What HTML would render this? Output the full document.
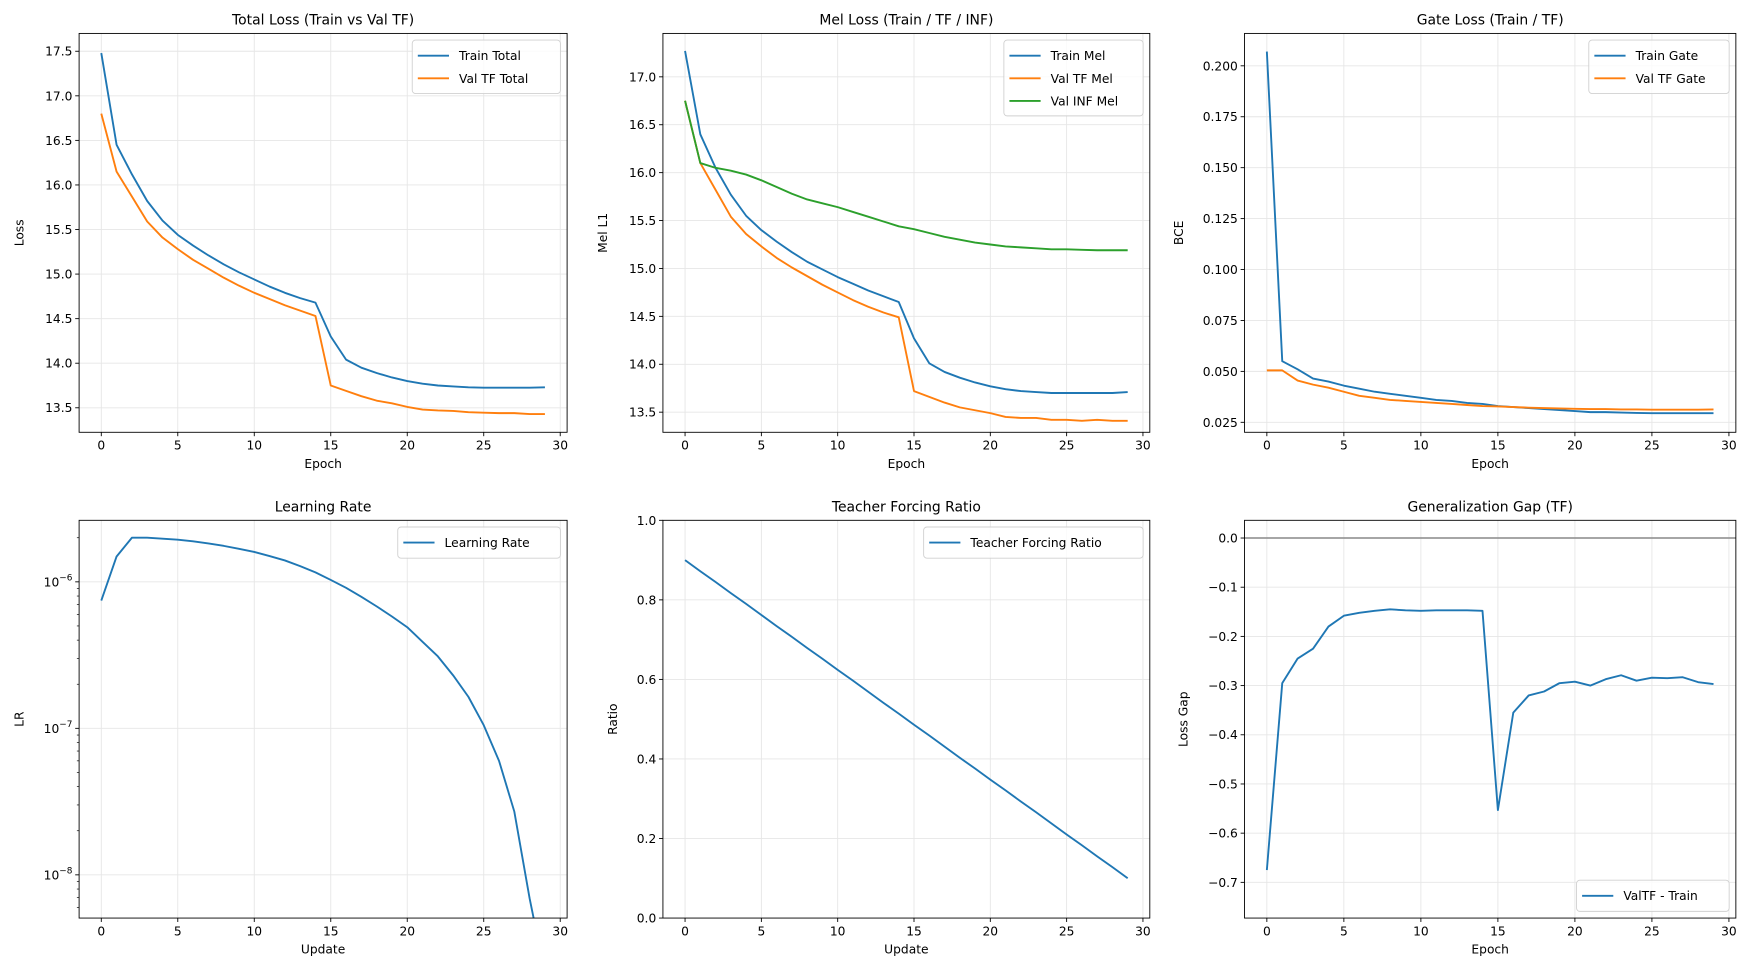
<!DOCTYPE html>
<html><head><meta charset="utf-8"><style>
html,body{margin:0;padding:0;background:#fff;}
svg{display:block;font-family:"DejaVu Sans","Liberation Sans",sans-serif;}
</style></head><body>
<svg id="fig" width="1747" height="976" viewBox="0 0 1568 876" xmlns="http://www.w3.org/2000/svg"></svg>
<script>
const epochs = [0,1,2,3,4,5,6,7,8,9,10,11,12,13,14,15,16,17,18,19,20,21,22,23,24,25,26,27,28,29];
const trainTotal = [17.48,16.45,16.12,15.82,15.6,15.44,15.32,15.21,15.11,15.02,14.94,14.86,14.79,14.73,14.68,14.3,14.04,13.95,13.89,13.84,13.8,13.77,13.75,13.74,13.73,13.725,13.725,13.725,13.725,13.73];
const valTotal = [16.8,16.15,15.87,15.59,15.41,15.28,15.16,15.06,14.96,14.87,14.79,14.72,14.65,14.59,14.53,13.75,13.69,13.63,13.58,13.55,13.51,13.48,13.47,13.465,13.45,13.445,13.44,13.44,13.43,13.43];
const trainMel = [17.27,16.4,16.05,15.77,15.55,15.4,15.28,15.17,15.07,14.99,14.91,14.84,14.77,14.71,14.65,14.27,14.01,13.92,13.86,13.81,13.77,13.74,13.72,13.71,13.70,13.70,13.70,13.70,13.70,13.71];
const valTfMel = [16.75,16.1,15.82,15.54,15.36,15.23,15.11,15.01,14.92,14.83,14.75,14.67,14.6,14.54,14.49,13.72,13.66,13.6,13.55,13.52,13.49,13.45,13.44,13.44,13.42,13.42,13.41,13.42,13.41,13.41];
const valInfMel = [16.75,16.1,16.05,16.02,15.98,15.92,15.85,15.78,15.72,15.68,15.64,15.59,15.54,15.49,15.44,15.41,15.37,15.33,15.3,15.27,15.25,15.23,15.22,15.21,15.2,15.2,15.195,15.19,15.19,15.19];
const trainGate = [0.207,0.055,0.051,0.0465,0.045,0.043,0.0415,0.040,0.039,0.038,0.037,0.036,0.0355,0.0345,0.034,0.033,0.0325,0.032,0.0315,0.031,0.0305,0.030,0.030,0.0298,0.0296,0.0295,0.0295,0.0295,0.0295,0.0295];
const valGate = [0.0505,0.0505,0.0455,0.0435,0.042,0.040,0.038,0.037,0.036,0.0355,0.035,0.0345,0.034,0.0335,0.033,0.0328,0.0325,0.0322,0.032,0.0318,0.0316,0.0315,0.0315,0.0313,0.0313,0.0312,0.0312,0.0312,0.0312,0.0313];
const learningRate = [7.45e-7,1.49e-6,2.0e-6,2.0e-6,1.97e-6,1.94e-6,1.89e-6,1.83e-6,1.76e-6,1.68e-6,1.6e-6,1.5e-6,1.4e-6,1.28e-6,1.16e-6,1.03e-6,9.1e-7,7.9e-7,6.8e-7,5.8e-7,4.9e-7,3.9e-7,3.1e-7,2.3e-7,1.64e-7,1.05e-7,6.0e-8,2.7e-8,6.9e-9,1e-14];
const tfRatio = [0.900,0.872,0.845,0.817,0.790,0.762,0.734,0.707,0.679,0.652,0.624,0.597,0.569,0.541,0.514,0.486,0.459,0.431,0.403,0.376,0.348,0.321,0.293,0.266,0.238,0.210,0.183,0.155,0.128,0.100];
const genGap = [-0.675,-0.295,-0.245,-0.225,-0.18,-0.158,-0.152,-0.148,-0.145,-0.147,-0.148,-0.147,-0.147,-0.147,-0.148,-0.553,-0.355,-0.32,-0.312,-0.295,-0.292,-0.3,-0.287,-0.279,-0.29,-0.284,-0.285,-0.283,-0.293,-0.297];
const xTicks = [0,5,10,15,20,25,30];
const ticksTotal = [13.5,14.0,14.5,15.0,15.5,16.0,16.5,17.0,17.5];
const ticksMel = [13.5,14.0,14.5,15.0,15.5,16.0,16.5,17.0];
const ticksGate = [0.025,0.050,0.075,0.100,0.125,0.150,0.175,0.200];
const ticksRatio = [0.0,0.2,0.4,0.6,0.8,1.0];
const ticksGap = [-0.7,-0.6,-0.5,-0.4,-0.3,-0.2,-0.1,0.0];
const ticksLogExp = [-8,-7,-6];

const NS="http://www.w3.org/2000/svg";
const svg=document.getElementById('fig');
const C1="#1f77b4",C2="#ff7f0e",C3="#2ca02c";
function mk(tag,attrs,parent){const e=document.createElementNS(NS,tag);for(const k in attrs)e.setAttribute(k,attrs[k]);(parent||svg).appendChild(e);return e;}
let clipId=0;
function panel(o){
  const g=mk('g',{});
  
  
  const L=o.box[0],R=o.box[1],T=o.box[2],B=o.box[3];
  const xs=v=>L+(v-(-1.45))/(31.9)*(R-L);
  const ys=o.log? (v=>B-(Math.log10(v)-o.ymin)/(o.ymax-o.ymin)*(B-T)) : (v=>B-(v-o.ymin)/(o.ymax-o.ymin)*(B-T));
  xTicks.forEach(t=>{const x=xs(t);const gl=mk('line',{x1:x,x2:x,y1:T,y2:B,stroke:'#e6e6e6','stroke-width':0.8},g);
    const tk=mk('line',{x1:x,x2:x,y1:B,y2:B+3.5,stroke:'#000','stroke-width':0.8},g);
    const tl=mk('text',{x:x,y:B+15.5,'font-size':11,'text-anchor':'middle',fill:'#000'},g);tl.textContent=t;});
  if(o.log){
    for(let e=-9;e<=-5;e++){for(let m=1;m<10;m++){const v=m*Math.pow(10,e);const lv=Math.log10(v);if(lv<o.ymin||lv>o.ymax)continue;const y=ys(v);
      if(m===1){const gl=mk('line',{x1:L,x2:R,y1:y,y2:y,stroke:'#e6e6e6','stroke-width':0.8},g);}
      const tk=mk('line',{x1:L-(m===1?3.5:2),x2:L,y1:y,y2:y,stroke:'#000','stroke-width':m===1?0.8:0.6},g);}}
    ticksLogExp.forEach(e=>{const y=ys(Math.pow(10,e));const tl=mk('text',{x:L-6,y:y+4,'font-size':11,'text-anchor':'end',fill:'#000'},g);
      tl.appendChild(document.createTextNode('10'));const ts=mk('tspan',{dy:-5,'font-size':8},tl);ts.textContent='\u2212'+(-e);});
  } else {
    o.yt.forEach(t=>{const y=ys(t);const gl=mk('line',{x1:L,x2:R,y1:y,y2:y,stroke:'#e6e6e6','stroke-width':0.8},g);
      const tk=mk('line',{x1:L-3.5,x2:L,y1:y,y2:y,stroke:'#000','stroke-width':0.8},g);
      const tl=mk('text',{x:L-6,y:y+4,'font-size':11,'text-anchor':'end',fill:'#000'},g);tl.textContent=(t<0?'\u2212':'')+Math.abs(t).toFixed(o.dec);});
  }
  if(o.zero){const z=mk('line',{x1:L,x2:R,y1:ys(0),y2:ys(0),stroke:'#999','stroke-width':1.5},g);}
  const cid='c'+(clipId++);const cp=mk('clipPath',{id:cid},g);mk('rect',{x:L,y:T,width:R-L,height:B-T},cp);
  o.series.forEach(s=>{const d=s.data.map((v,i)=>(i?'L':'M')+xs(epochs[i]).toFixed(2)+','+Math.min(ys(v),B+50).toFixed(2)).join('');
    const p=mk('path',{d:d,fill:'none',stroke:s.c,'stroke-width':1.7,'clip-path':'url(#'+cid+')','stroke-linejoin':'round'},g);});
  const fr=mk('rect',{x:L,y:T,width:R-L,height:B-T,fill:'none',stroke:'#000','stroke-width':0.8},g);
  const ti=mk('text',{x:(L+R)/2,y:T-8,'font-size':12.5,'text-anchor':'middle',fill:'#000'},g);ti.textContent=o.title;
  const xl=mk('text',{x:(L+R)/2,y:B+32,'font-size':11,'text-anchor':'middle',fill:'#000'},g);xl.textContent=o.xlab;
  const yl=mk('text',{x:0,y:0,'font-size':11,'text-anchor':'middle',fill:'#000',transform:'translate('+o.ylx+','+(T+B)/2+') rotate(-90)'},g);yl.textContent=o.ylab;
  const n=o.series.length;const lw=o.legW,lh=8+n*20;const lx=R-6-lw;const ly=o.legBottom?B-6-lh:T+6;
  const lg=mk('g',{},g);
  mk('rect',{x:lx,y:ly,width:lw,height:lh,rx:3,fill:'#fff','fill-opacity':0.8,stroke:'#d0d0d0','stroke-width':0.8},lg);
  o.series.forEach((s,i)=>{const yy=ly+14+i*20.3;const e=mk('g',{},lg);
    mk('line',{x1:lx+5,x2:lx+33,y1:yy,y2:yy,stroke:s.c,'stroke-width':1.7},e);
    const t=mk('text',{x:lx+42,y:yy+4,'font-size':11,fill:'#000'},e);t.textContent=s.label;});
}
const topRow=[30,388],botRow=[467,824];
panel({name:'total-loss-chart',box:[71,509,topRow[0],topRow[1]],ymin:13.225,ymax:17.7,yt:ticksTotal,dec:1,title:'Total Loss (Train vs Val TF)',xlab:'Epoch',ylab:'Loss',ylx:21,legW:133,
  series:[{id:'train-total-line',data:trainTotal,c:C1,label:'Train Total'},{id:'val-tf-total-line',data:valTotal,c:C2,label:'Val TF Total'}]});
panel({name:'mel-loss-chart',box:[595,1032,topRow[0],topRow[1]],ymin:13.29,ymax:17.453,yt:ticksMel,dec:1,title:'Mel Loss (Train / TF / INF)',xlab:'Epoch',ylab:'Mel L1',ylx:545,legW:125,
  series:[{id:'train-mel-line',data:trainMel,c:C1,label:'Train Mel'},{id:'val-tf-mel-line',data:valTfMel,c:C2,label:'Val TF Mel'},{id:'val-inf-mel-line',data:valInfMel,c:C3,label:'Val INF Mel'}]});
panel({name:'gate-loss-chart',box:[1117,1558,topRow[0],topRow[1]],ymin:0.0201,ymax:0.2159,yt:ticksGate,dec:3,title:'Gate Loss (Train / TF)',xlab:'Epoch',ylab:'BCE',ylx:1062,legW:126,
  series:[{id:'train-gate-line',data:trainGate,c:C1,label:'Train Gate'},{id:'val-tf-gate-line',data:valGate,c:C2,label:'Val TF Gate'}]});
panel({name:'learning-rate-chart',box:[71,509,botRow[0],botRow[1]],log:true,ymin:-8.295,ymax:-5.58,title:'Learning Rate',xlab:'Update',ylab:'LR',ylx:21,legW:146,
  series:[{id:'learning-rate-line',data:learningRate,c:C1,label:'Learning Rate'}]});
panel({name:'teacher-forcing-chart',box:[595,1032,botRow[0],botRow[1]],ymin:0,ymax:1,yt:ticksRatio,dec:1,title:'Teacher Forcing Ratio',xlab:'Update',ylab:'Ratio',ylx:554,legW:197,
  series:[{id:'teacher-forcing-line',data:tfRatio,c:C1,label:'Teacher Forcing Ratio'}]});
panel({name:'generalization-gap-chart',box:[1117,1558,botRow[0],botRow[1]],ymin:-0.7726,ymax:0.036,yt:ticksGap,dec:1,zero:true,legBottom:true,title:'Generalization Gap (TF)',xlab:'Epoch',ylab:'Loss Gap',ylx:1066,legW:137,
  series:[{id:'gap-line',data:genGap,c:C1,label:'ValTF - Train'}]});
</script>
</body></html>
